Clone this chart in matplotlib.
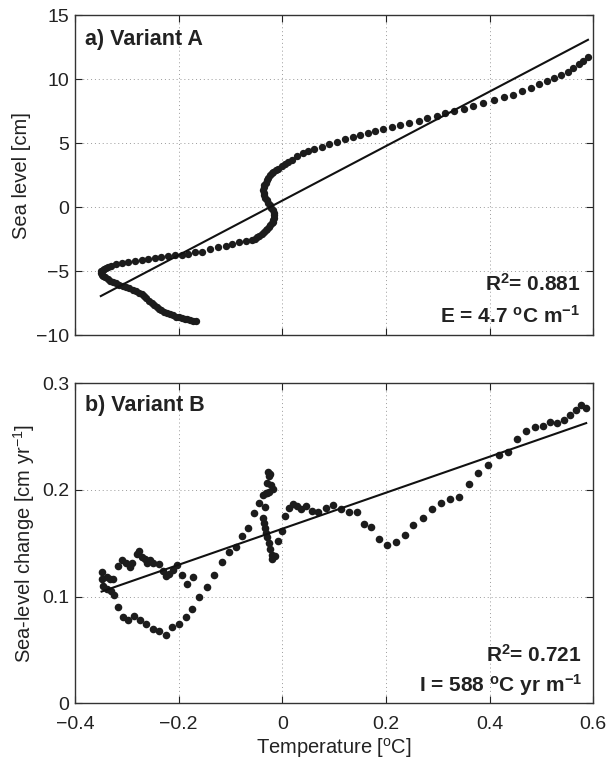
import numpy as np
import matplotlib
matplotlib.use("Agg")
import matplotlib.pyplot as plt
from matplotlib.ticker import FuncFormatter

plt.rcParams['font.family'] = ['Liberation Sans', 'DejaVu Sans']
plt.rcParams['mathtext.fontset'] = 'custom'
plt.rcParams['mathtext.rm'] = 'Liberation Sans'
plt.rcParams['mathtext.it'] = 'Liberation Sans'
plt.rcParams['mathtext.bf'] = 'Liberation Sans:bold'

# ---------------- Panel a data (temperature, sea level) ----------------
temp_a = [
    # lower branch (end of loop)
    -0.166, -0.172, -0.177, -0.183, -0.188, -0.194, -0.199, -0.205, -0.210, -0.216,
    -0.222, -0.228, -0.233, -0.238, -0.242, -0.247, -0.252, -0.257, -0.262, -0.266,
    -0.271, -0.276, -0.282, -0.288, -0.295, -0.301, -0.308, -0.314, -0.321, -0.327,
    -0.332, -0.337, -0.342, -0.346, -0.3485, -0.350,
    # upper branch
    -0.350, -0.3465, -0.344, -0.340, -0.336, -0.331, -0.321, -0.310, -0.297, -0.284,
    -0.271, -0.258, -0.246, -0.233, -0.220, -0.207, -0.194, -0.181, -0.168, -0.155,
    # S-shaped middle
    -0.139, -0.123, -0.109, -0.096, -0.083, -0.0705, -0.059, -0.053, -0.048, -0.044,
    -0.0396, -0.036, -0.032, -0.029, -0.0255, -0.023, -0.020, -0.018, -0.017, -0.016,
    -0.0158, -0.016, -0.018, -0.021, -0.0236, -0.027, -0.030, -0.033, -0.035, -0.036,
    -0.0365, -0.0355, -0.0345, -0.032, -0.030, -0.027, -0.0236, -0.020, -0.017, -0.012,
    -0.0075, -0.001, 0.0054, 0.012, 0.0183,
    # upper right
    0.028, 0.0407, 0.0504, 0.0614, 0.0763, 0.091, 0.106, 0.121, 0.136, 0.150,
    0.165, 0.180, 0.195, 0.211, 0.227, 0.245, 0.263, 0.280, 0.298, 0.314,
    0.332, 0.350, 0.369, 0.388, 0.408, 0.427, 0.445, 0.462, 0.480, 0.496,
    0.511, 0.525, 0.538, 0.551, 0.562, 0.572, 0.581, 0.590,
]
sea_level_a = [
    -8.91, -8.86, -8.80, -8.77, -8.73, -8.68, -8.62, -8.55, -8.46, -8.36,
    -8.26, -8.16, -8.05, -7.92, -7.79, -7.63, -7.47, -7.30, -7.13, -6.97,
    -6.82, -6.69, -6.56, -6.45, -6.35, -6.26, -6.17, -6.06, -5.96, -5.85,
    -5.73, -5.61, -5.49, -5.39, -5.29, -5.15,
    -5.02, -4.90, -4.82, -4.74, -4.66, -4.59, -4.45, -4.35, -4.27, -4.19,
    -4.12, -4.04, -3.96, -3.88, -3.83, -3.77, -3.70, -3.62, -3.54, -3.47,
    -3.28, -3.15, -3.05, -2.91, -2.76, -2.63, -2.54, -2.45, -2.36, -2.27,
    -2.06, -1.93, -1.80, -1.67, -1.54, -1.40, -1.27, -1.15, -1.02, -0.83,
    -0.63, -0.43, -0.23, -0.04, 0.16, 0.35, 0.55, 0.75, 0.94, 1.13,
    1.33, 1.55, 1.72, 1.92, 2.11, 2.30, 2.50, 2.64, 2.76, 2.90,
    3.02, 3.20, 3.36, 3.52, 3.67,
    3.98, 4.24, 4.40, 4.53, 4.71, 4.92, 5.10, 5.29, 5.47, 5.65,
    5.83, 5.99, 6.12, 6.27, 6.43, 6.59, 6.74, 6.93, 7.11, 7.32,
    7.50, 7.68, 7.89, 8.13, 8.34, 8.57, 8.80, 9.04, 9.30, 9.59,
    9.84, 10.10, 10.34, 10.60, 10.88, 11.17, 11.43, 11.74,
]
fit_a_slope = 21.3       # cm per degC (E = 4.7 degC m^-1)
fit_a_intercept = 0.51   # cm
label_a = "a) Variant A"
r2_a = "0.881"
stat_a = r"E = 4.7 $^{\mathbf{o}}$C m$^{\mathbf{-1}}$"

# ---------------- Panel b data (temperature, sea-level change) ----------------
temp_b = [
    -0.3485, -0.3485, -0.339, -0.3324, -0.326, -0.3454, -0.339, -0.3311, -0.3247, -0.3176,
    -0.3079, -0.2971, -0.2861, -0.2745, -0.2629, -0.25, -0.2378, -0.2249, -0.2122, -0.1992,
    -0.1863, -0.1735, -0.16, -0.1458, -0.1311, -0.1162, -0.1027, -0.0898, -0.0776, -0.066,
    -0.0544, -0.0442,
    -0.3176, -0.3087, -0.3021, -0.2938, -0.2905, -0.2809, -0.2765, -0.2712, -0.2649, -0.2616,
    -0.2552, -0.2488, -0.2378, -0.2307, -0.2243, -0.2185, -0.2102, -0.2025, -0.194, -0.1844,
    -0.1728,
    -0.0365, -0.0313, -0.0249, -0.0183, -0.0222, -0.0288, -0.0249, -0.0268, -0.023, -0.0332,
    -0.0288,
    -0.0365, -0.0351, -0.0332, -0.0313, -0.0288, -0.0261, -0.0236, -0.0197, -0.0203, -0.0139,
    -0.0075, -0.001, 0.0054, 0.0137, 0.0214, 0.028, 0.0363, 0.0454, 0.0569, 0.0697,
    0.084, 0.0975, 0.1141, 0.129, 0.1438, 0.158, 0.1714, 0.1869, 0.2023, 0.2191,
    0.2365, 0.2531, 0.2718, 0.2898, 0.3071, 0.3239, 0.3413, 0.360, 0.3786, 0.3979,
    0.418, 0.4365, 0.4539, 0.4707, 0.4875, 0.5029, 0.517, 0.5305, 0.544, 0.5562,
    0.5672, 0.5768, 0.5865,
]
slr_b = [
    0.1228, 0.1165, 0.1181, 0.1162, 0.1168, 0.1102, 0.1069, 0.1056, 0.1012, 0.0900,
    0.0806, 0.0781, 0.0818, 0.0781, 0.0741, 0.0697, 0.0675, 0.0640, 0.0712, 0.0743,
    0.0812, 0.0887, 0.0994, 0.1093, 0.1203, 0.1328, 0.1416, 0.1462, 0.1568, 0.1640,
    0.1787, 0.1875,
    0.1287, 0.1341, 0.1312, 0.1281, 0.1312, 0.1397, 0.1425, 0.1375, 0.1350, 0.1318,
    0.1343, 0.1318, 0.1303, 0.1243, 0.1193, 0.1212, 0.1250, 0.1297, 0.1206, 0.1116,
    0.1181,
    0.1953, 0.1969, 0.1984, 0.2006, 0.2047, 0.2068, 0.2131, 0.2169, 0.2150, 0.1843,
    0.1969,
    0.1734, 0.1688, 0.1640, 0.1600, 0.1556, 0.1500, 0.1444, 0.1390, 0.1350, 0.1380,
    0.1525, 0.1618, 0.1756, 0.1828, 0.1868, 0.1850, 0.1819, 0.1853, 0.1806, 0.1796,
    0.1828, 0.1859, 0.1819, 0.1796, 0.1790, 0.1681, 0.1656, 0.1537, 0.1484, 0.1512,
    0.1578, 0.1669, 0.1734, 0.1819, 0.1875, 0.1912, 0.1937, 0.2056, 0.2162, 0.2231,
    0.2331, 0.2356, 0.2475, 0.2550, 0.2588, 0.2603, 0.2637, 0.2628, 0.2656, 0.2700,
    0.2752, 0.2800, 0.2766,
]
fit_b_slope = 0.1689      # cm yr^-1 per degC (I = 588 degC yr m^-1)
fit_b_intercept = 0.1636  # cm yr^-1
label_b = "b) Variant B"
r2_b = "0.721"
stat_b = r"I = 588 $^{\mathbf{o}}$C yr m$^{\mathbf{-1}}$"

x_ticks = [-0.4, -0.2, 0, 0.2, 0.4, 0.6]
y_ticks_a = [-10, -5, 0, 5, 10, 15]
y_ticks_b = [0, 0.1, 0.2, 0.3]

# ---------------- Figure ----------------
fig = plt.figure(figsize=(6.09, 7.60), dpi=100)
ax1 = fig.add_axes([0.123, 0.559, 0.851, 0.421])
ax2 = fig.add_axes([0.123, 0.0746, 0.851, 0.4211])

fmt = FuncFormatter(lambda v, p: ("%g" % round(v, 6)).replace("-", "\u2212"))
dot_color = "#1c1c1c"


def style(ax, yticks, ylim):
    ax.set_xlim(-0.4, 0.6)
    ax.set_ylim(*ylim)
    ax.set_xticks(x_ticks)
    ax.set_yticks(yticks)
    ax.xaxis.set_major_formatter(fmt)
    ax.yaxis.set_major_formatter(fmt)
    ax.tick_params(direction="in", top=True, right=True, length=5, width=0.8,
                   labelsize=14, colors="#222222", pad=4)
    ax.tick_params(axis="x", pad=9)
    ax.grid(True, linestyle=(0, (1, 3)), color="#9a9a9a", linewidth=0.7)
    ax.set_axisbelow(True)
    for s in ax.spines.values():
        s.set_linewidth(1.0)
        s.set_color("#333333")


# Panel a
style(ax1, y_ticks_a, (-10, 15))
ax1.tick_params(labelbottom=False)
ax1.scatter(temp_a, sea_level_a, s=28, color=dot_color, linewidths=0, zorder=3)
xa = np.array([min(temp_a), max(temp_a)])
ax1.plot(xa, fit_a_slope * xa + fit_a_intercept, color="#111111", lw=1.5, zorder=4)
ax1.set_ylabel("Sea level [cm]", fontsize=14.5, color="#222222", labelpad=4)
ax1.text(0.019, 0.958, label_a, transform=ax1.transAxes, fontsize=15.5,
         fontweight="bold", ha="left", va="top", color="#222222")
ax1.text(0.975, 0.14, r"R$^{\mathbf{2}}$= " + r2_a, transform=ax1.transAxes,
         fontsize=15, fontweight="bold", ha="right", va="baseline", color="#222222")
ax1.text(0.975, 0.04, stat_a, transform=ax1.transAxes,
         fontsize=15, fontweight="bold", ha="right", va="baseline", color="#222222")

# Panel b
style(ax2, y_ticks_b, (0, 0.3))
ax2.scatter(temp_b, slr_b, s=30, color=dot_color, linewidths=0, zorder=3)
xb = np.array([min(temp_b), max(temp_b)])
ax2.plot(xb, fit_b_slope * xb + fit_b_intercept, color="#111111", lw=1.5, zorder=4)
ax2.set_ylabel(r"Sea-level change [cm yr$^{-1}$]", fontsize=14.5, color="#222222",
               labelpad=4)
ax2.set_xlabel(r"Temperature [$^{\mathrm{o}}$C]", fontsize=14.5, color="#222222",
               labelpad=2)
ax2.text(0.019, 0.962, label_b, transform=ax2.transAxes, fontsize=15.5,
         fontweight="bold", ha="left", va="top", color="#222222")
ax2.text(0.978, 0.13, r"R$^{\mathbf{2}}$= " + r2_b, transform=ax2.transAxes,
         fontsize=15, fontweight="bold", ha="right", va="baseline", color="#222222")
ax2.text(0.978, 0.036, stat_b, transform=ax2.transAxes,
         fontsize=15, fontweight="bold", ha="right", va="baseline", color="#222222")

fig.savefig("out.png", dpi=100)
